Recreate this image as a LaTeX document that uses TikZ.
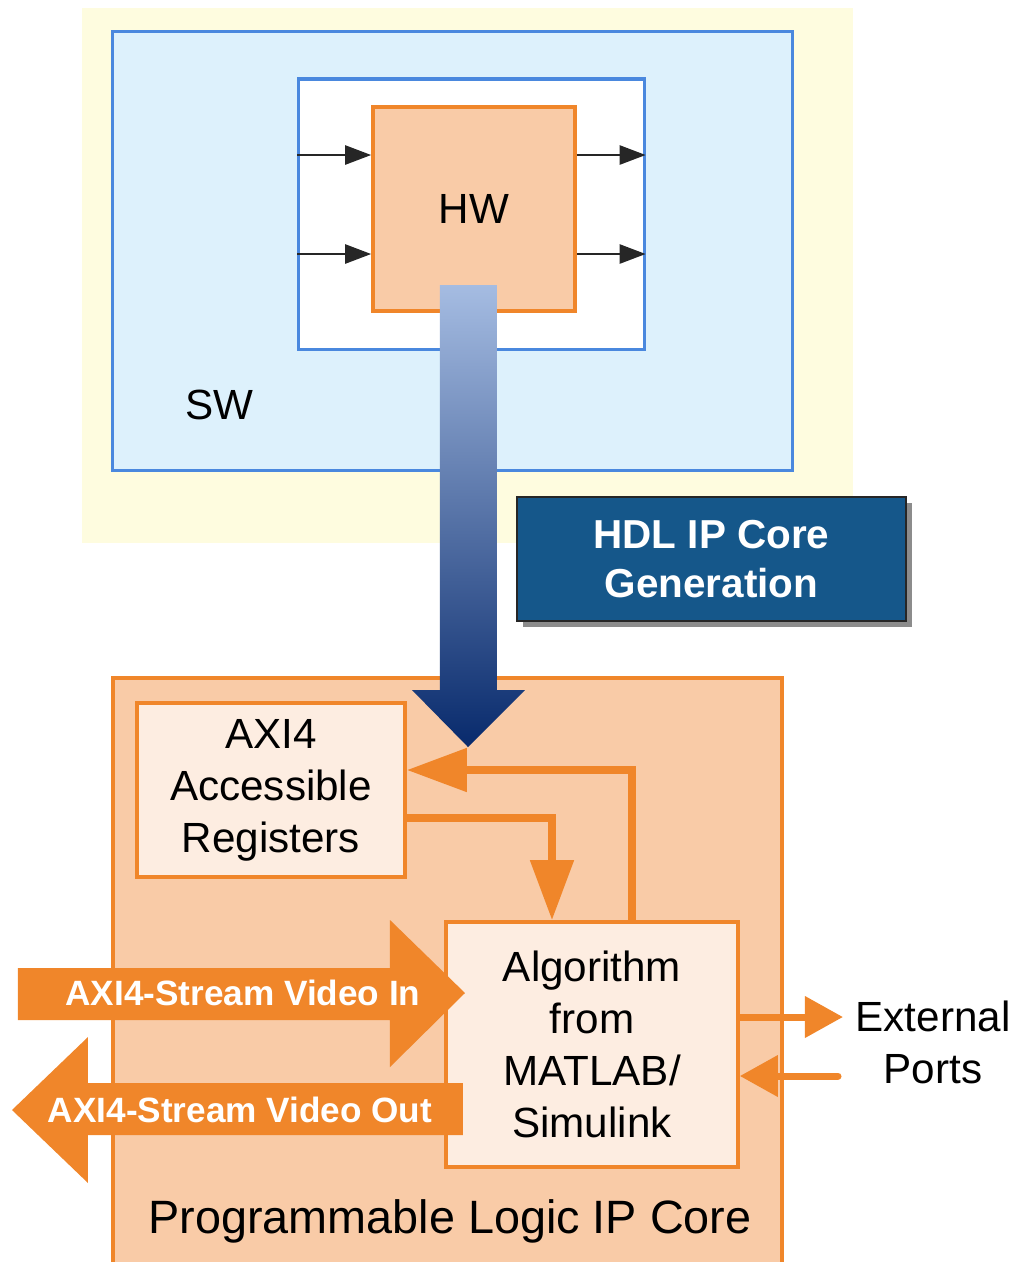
\documentclass[tikz,border=0pt]{standalone}
\usepackage{fontspec}
\setmainfont{Liberation Sans}
\usetikzlibrary{positioning,arrows.meta,shadows}
\definecolor{pale}{HTML}{FEFCDF}
\definecolor{swfill}{HTML}{DDF1FC}
\definecolor{swline}{HTML}{4A88DE}
\definecolor{hwfill}{HTML}{F9CBA7}
\definecolor{orng}{HTML}{F0862A}
\definecolor{cfill}{HTML}{FDEDE1}
\definecolor{hdl}{HTML}{15578A}
\definecolor{gtop}{HTML}{A5BCE2}
\definecolor{gbot}{HTML}{082A6C}
\newcommand{\boxfont}{\fontsize{12}{14.8}\selectfont}

\begin{document}
\begin{tikzpicture}[x=0.01cm, y=-0.01cm, >=Stealth,
  box/.style={rectangle, inner sep=0pt, line width=0.9pt},
  swbox/.style={box, draw=swline, fill=swfill},
  orbox/.style={box, draw=orng, line width=1pt, align=center, font=\boxfont},
  sig/.style={->, line width=0.7pt, draw=black!85, >={Triangle[length=2.6mm, width=1.9mm]}},
  oline/.style={-{Triangle[length=6mm, width=4.2mm]}, draw=orng, line width=2.3pt},
  pline/.style={-{Triangle[length=3.8mm, width=4mm]}, draw=orng, line width=2pt, line cap=round},
  bigarrow/.style={fill=orng},
  lbl/.style={text=white, font=\fontsize{10}{12}\selectfont\bfseries}]

\useasboundingbox (0,0) rectangle (1021,1262);

% software side
\node[box, fill=pale, minimum width=7.71cm, minimum height=5.35cm] (env) at (467.5,275.5) {};
\node[swbox, minimum width=6.79cm, minimum height=4.38cm] (sw) at (452.5,251) {};
\node[swbox, fill=white, minimum width=3.45cm, minimum height=2.70cm] (inner) at (471.5,214) {};
\node[orbox, fill=hwfill, minimum width=2.02cm, minimum height=2.04cm] (hw) at (474,209) {HW};
\node[font=\boxfont] (swl) at (219,405) {SW};

\foreach \y [count=\i] in {155,254} {
  \coordinate (p\i) at (0,\y);
  \draw[sig] (inner.west |- p\i) -- (hw.west |- p\i);
  \draw[sig] (hw.east |- p\i) -- (inner.east |- p\i);
}

\node[box, fill=hdl, draw=black!85, line width=0.6pt, minimum width=3.89cm, minimum height=1.24cm,
  drop shadow={shadow xshift=0.6mm, shadow yshift=-0.6mm, fill=black, opacity=0.45},
  text=white, align=center, font=\fontsize{11.5}{13.7}\selectfont\bfseries] (hdl) at (711.5,559) {HDL IP Core\\Generation};

% programmable logic side
\node[box, fill=hwfill, draw=orng, line width=1.1pt, minimum width=6.69cm, minimum height=5.94cm] (ip) at (447.5,975) {};
\node[font=\fontsize{13.3}{16}\selectfont] (ipl) at (450,1221) {Programmable Logic IP Core};
\node[orbox, fill=cfill, minimum width=2.68cm, minimum height=1.74cm] (regs) at (271,790) {AXI4\\Accessible\\Registers};
\node[orbox, fill=cfill, minimum width=2.92cm, minimum height=2.45cm] (algo) at (592,1044.5) {Algorithm\\from\\MATLAB/\\Simulink};

\shade[top color=gtop, bottom color=gbot] (440,285) -- (497,285) -- (497,690) -- (525,690) -- (468,747) -- (412,690) -- (440,690) -- cycle;

\coordinate (up) at (632,770);
\coordinate (dn) at (552,818);
\draw[oline] (algo.north -| up) |- (regs.east |- up);
\draw[oline] (regs.east |- dn) -| (algo.north -| dn);

% video streams
\fill[bigarrow] (18,968) -- (390,968) -- (390,920) -- (465,993) -- (390,1067) -- (390,1020) -- (18,1020) -- cycle;
\fill[bigarrow] (463,1083) -- (88,1083) -- (88,1037) -- (12,1110) -- (88,1183) -- (88,1135) -- (463,1135) -- cycle;
\node[lbl] (vin) at (243,993) {AXI4-Stream Video In};
\node[lbl] (vout) at (240,1110) {AXI4-Stream Video Out};

% external ports
\node[font=\boxfont, align=center] (ext) at (933,1042) {External\\Ports};
\coordinate (eo) at (843,1017);
\coordinate (ei) at (838,1076);
\draw[pline] (algo.east |- eo) -- (eo);
\draw[pline] (ei) -- (algo.east |- ei);
\end{tikzpicture}
\end{document}
